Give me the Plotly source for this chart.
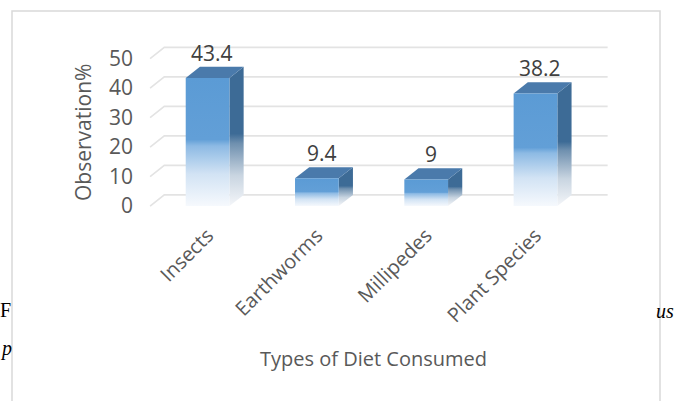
import plotly.graph_objects as go

# Diet composition (% of observations)
categories = ["Insects", "Earthworms", "Millipedes", "Plant Species"]
observation = [43.4, 9.4, 9, 38.2]
y_ticks = [0, 10, 20, 30, 40, 50]

# Figure geometry (pixels)
W, H = 676, 401
ML, MR, MT, MB = 142, 64, 35, 189
PW, PH = W - ML - MR, H - MT - MB
X_RANGE = [-0.6, 3.7]
Y_RANGE = [-2, 58]

# Pseudo-3D depth offsets, in axis units
DX, DY = 0.13, 3.8
HALF_W = 0.2
GRID_X0, GRID_X1 = -0.526, 3.53

FRONT = "#5B9BD5"
SIDE = "#3D6B96"
TOP = "#4A7AAB"
GRID = "#E3E3E3"
TEXT = "#595959"


def px_x(p):
    return (p - ML) / PW


def px_y(p):
    return (H - MB - p) / PH


fig = go.Figure()

# Back-wall gridlines with the left floor/wall diagonal
for t in y_ticks:
    fig.add_trace(go.Scatter(
        x=[GRID_X0, GRID_X0 + DX, GRID_X1 + DX],
        y=[t, t + DY, t + DY],
        mode="lines", line=dict(color=GRID, width=1.6),
        hoverinfo="skip", showlegend=False,
    ))


def face(xs, ys, grad=None, color=None):
    kw = dict(x=xs + [xs[0]], y=ys + [ys[0]], mode="lines", fill="toself",
              line=dict(width=0, color="rgba(0,0,0,0)"),
              hoverinfo="skip", showlegend=False, fillcolor=color)
    if grad is not None:
        kw["fillgradient"] = grad
    return go.Scatter(**kw)


def fade(stops):
    return dict(type="vertical", colorscale=stops)


FRONT_FADE = [[0.0, "#F6F9FD"], [0.25, "#D2E3F4"], [0.47, "#8DBAE4"],
              [0.52, "#629FD7"], [1.0, FRONT]]
SIDE_FADE = [[0.0, "#F4F6F9"], [0.22, "#C9D5E1"], [0.45, "#6F90AF"],
             [0.52, SIDE], [1.0, SIDE]]

for i, v in enumerate(observation):
    x0, x1 = i - HALF_W, i + HALF_W
    # side face
    fig.add_trace(face([x1, x1 + DX, x1 + DX, x1], [0, DY, v + DY, v],
                       grad=fade(SIDE_FADE), color=SIDE))
    # top face
    fig.add_trace(face([x0, x1, x1 + DX, x0 + DX], [v, v, v + DY, v + DY],
                       color=TOP))
    # front face
    fig.add_trace(face([x0, x1, x1, x0], [0, 0, v, v],
                       grad=fade(FRONT_FADE), color=FRONT))

annotations = []
for i, v in enumerate(observation):
    annotations.append(dict(
        x=i + DX / 3, y=v + DY, xref="x", yref="y",
        text=f"{v:g}", showarrow=False, xanchor="center", yanchor="bottom",
        yshift=-2,
        font=dict(family="Open Sans", size=21, color="#404040"),
    ))

# Axis titles
annotations.append(dict(
    x=px_x(83), y=px_y(133), xref="paper", yref="paper",
    text="Observation%", textangle=-90, showarrow=False,
    xanchor="center", yanchor="middle",
    font=dict(family="Open Sans", size=21, color=TEXT),
))
annotations.append(dict(
    x=px_x(373), y=px_y(358), xref="paper", yref="paper",
    text="Types of Diet Consumed", showarrow=False,
    xanchor="center", yanchor="middle",
    font=dict(family="Open Sans", size=20, color=TEXT),
))

# Surrounding page text
serif = dict(family="Liberation Serif", size=20, color="#000000")
annotations += [
    dict(x=px_x(-2), y=px_y(310), xref="paper", yref="paper", text="F",
         showarrow=False, xanchor="left", yanchor="middle", font=serif),
    dict(x=px_x(-2), y=px_y(348), xref="paper", yref="paper", text="<i>p</i>",
         showarrow=False, xanchor="left", yanchor="middle", font=serif),
    dict(x=px_x(676), y=px_y(311), xref="paper", yref="paper", text="<i>us</i>",
         showarrow=False, xanchor="right", yanchor="middle", font=serif),
]

fig.update_layout(
    width=W, height=H,
    margin=dict(l=ML, r=MR, t=MT, b=MB),
    paper_bgcolor="white", plot_bgcolor="white",
    annotations=annotations,
    shapes=[dict(type="rect", xref="paper", yref="paper",
                 x0=px_x(12), x1=px_x(660), y0=px_y(11), y1=px_y(420),
                 line=dict(color="#D9D9D9", width=1.5), layer="below")],
    xaxis=dict(range=X_RANGE, showgrid=False, zeroline=False, showline=False,
               tickmode="array", tickvals=list(range(len(categories))),
               ticktext=categories, tickangle=-45, ticks="",
               ticklabelstandoff=7,
               tickfont=dict(family="Open Sans", size=20, color=TEXT)),
    yaxis=dict(range=Y_RANGE, showgrid=False, zeroline=False, showline=False,
               tickmode="array", tickvals=y_ticks, ticks="",
               ticklabelstandoff=8,
               tickfont=dict(family="Open Sans", size=21, color=TEXT)),
)

fig.write_html("out.html")
